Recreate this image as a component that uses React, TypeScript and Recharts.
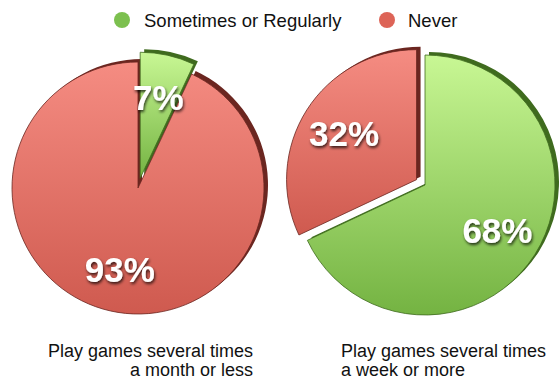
import { PieChart, Pie, Cell } from 'recharts';

const categories = ['Sometimes or Regularly', 'Never'];
const monthOrLess = [7, 93];
const weekOrMore = [68, 32];
const captionsLeft = ['Play games several times', 'a month or less'];
const captionsRight = ['Play games several times', 'a week or more'];

const FACE = ['url(#greenFace)', 'url(#redFace)'];
const EDGE = ['#3f6b1e', '#6b2620'];
const LEGEND_DOT = ['#7cc04f', '#dd6457'];
const FONT = '"Liberation Sans", Arial, Helvetica, sans-serif';

const RAD = Math.PI / 180;

function makeData(values: number[]) {
    return categories.map((name, i) => ({ name, value: values[i] }));
}

// offset of the exploded slice along its mid angle (clockwise from 12 o'clock)
function explodeOffset(values: number[], idx: number, dist: number) {
    const total = values.reduce((a, b) => a + b, 0);
    const before = values.slice(0, idx).reduce((a, b) => a + b, 0);
    const mid = ((before + values[idx] / 2) / total) * 360;
    return { dx: Math.sin(mid * RAD) * dist, dy: -Math.cos(mid * RAD) * dist };
}

function makeLabel(show: number) {
    return (props: any) => {
        const { cx, cy, midAngle, outerRadius, index, value } = props;
        if (index !== show) return null;
        const r = outerRadius * 0.66;
        const x = cx + r * Math.cos(-midAngle * RAD);
        const y = cy + r * Math.sin(-midAngle * RAD);
        return (
            <text
                x={x}
                y={y}
                textAnchor="middle"
                dominantBaseline="central"
                fill="#fff"
                fontFamily={FONT}
                fontWeight="bold"
                fontSize={35}
                filter="url(#txtShadow)"
            >
                {value}%
            </text>
        );
    };
}

function pieSet(key: string, values: number[], cx: number, cy: number, r: number, exploded: number, dist: number) {
    const data = makeData(values);
    const { dx, dy } = explodeOffset(values, exploded, dist);
    const sx = 4;
    const sy = -3;
    const common = {
        data,
        dataKey: 'value',
        startAngle: 90,
        endAngle: -270,
        outerRadius: r,
        isAnimationActive: false,
        labelLine: false,
    };
    const cells = (visible: (i: number) => boolean, shadow: boolean) =>
        data.map((_, i) => (
            <Cell
                key={i}
                fill={visible(i) ? (shadow ? EDGE[i] : FACE[i]) : 'none'}
                stroke={visible(i) ? EDGE[i] : 'none'}
                strokeWidth={shadow ? 0 : 0.8}
            />
        ));
    return [
        <Pie key={key + 's1'} {...common} cx={cx + sx} cy={cy + sy} label={false}>
            {cells((i) => i !== exploded, true)}
        </Pie>,
        <Pie key={key + 's2'} {...common} cx={cx + dx + sx} cy={cy + dy + sy} label={false}>
            {cells((i) => i === exploded, true)}
        </Pie>,
        <Pie key={key + 'b'} {...common} cx={cx} cy={cy} label={makeLabel(1 - exploded)}>
            {cells((i) => i !== exploded, false)}
        </Pie>,
        <Pie key={key + 'e'} {...common} cx={cx + dx} cy={cy + dy} label={makeLabel(exploded)}>
            {cells((i) => i === exploded, false)}
        </Pie>,
    ];
}

export default function App() {
    return (
        <div style={{ position: 'absolute', left: 0, top: 0, width: 559, height: 379, background: '#fff' }}>
            <PieChart width={559} height={379} margin={{ top: 0, right: 0, bottom: 0, left: 0 }}>
                <defs>
                    <linearGradient id="redFace" x1="0" y1="0" x2="0" y2="1">
                        <stop offset="0%" stopColor="#f58c82" />
                        <stop offset="100%" stopColor="#cf5a4f" />
                    </linearGradient>
                    <linearGradient id="greenFace" x1="0" y1="0" x2="0" y2="1">
                        <stop offset="0%" stopColor="#c8f794" />
                        <stop offset="100%" stopColor="#74b342" />
                    </linearGradient>
                    <filter id="txtShadow" x="-20%" y="-20%" width="140%" height="160%">
                        <feDropShadow dx="1" dy="2" stdDeviation="1.5" floodColor="#000" floodOpacity="0.75" />
                    </filter>
                </defs>
                {pieSet('m', monthOrLess, 138, 188, 126, 0, 10)}
                {pieSet('w', weekOrMore, 425, 185, 130, 1, 10)}
            </PieChart>
            <svg width={559} height={379} style={{ position: 'absolute', left: 0, top: 0, pointerEvents: 'none' }}>
                <g fontFamily={FONT} fontSize={18.5} fill="#111">
                    <circle cx={122} cy={20} r={8} fill={LEGEND_DOT[0]} />
                    <text x={144} y={26.5}>{categories[0]}</text>
                    <circle cx={387} cy={20} r={8} fill={LEGEND_DOT[1]} />
                    <text x={408} y={26.5}>{categories[1]}</text>
                </g>
                <g fontFamily={FONT} fontSize={18} fill="#111">
                    <text x={253} y={357} textAnchor="end">{captionsLeft[0]}</text>
                    <text x={253} y={376} textAnchor="end">{captionsLeft[1]}</text>
                    <text x={341} y={357}>{captionsRight[0]}</text>
                    <text x={341} y={376}>{captionsRight[1]}</text>
                </g>
            </svg>
        </div>
    );
}
